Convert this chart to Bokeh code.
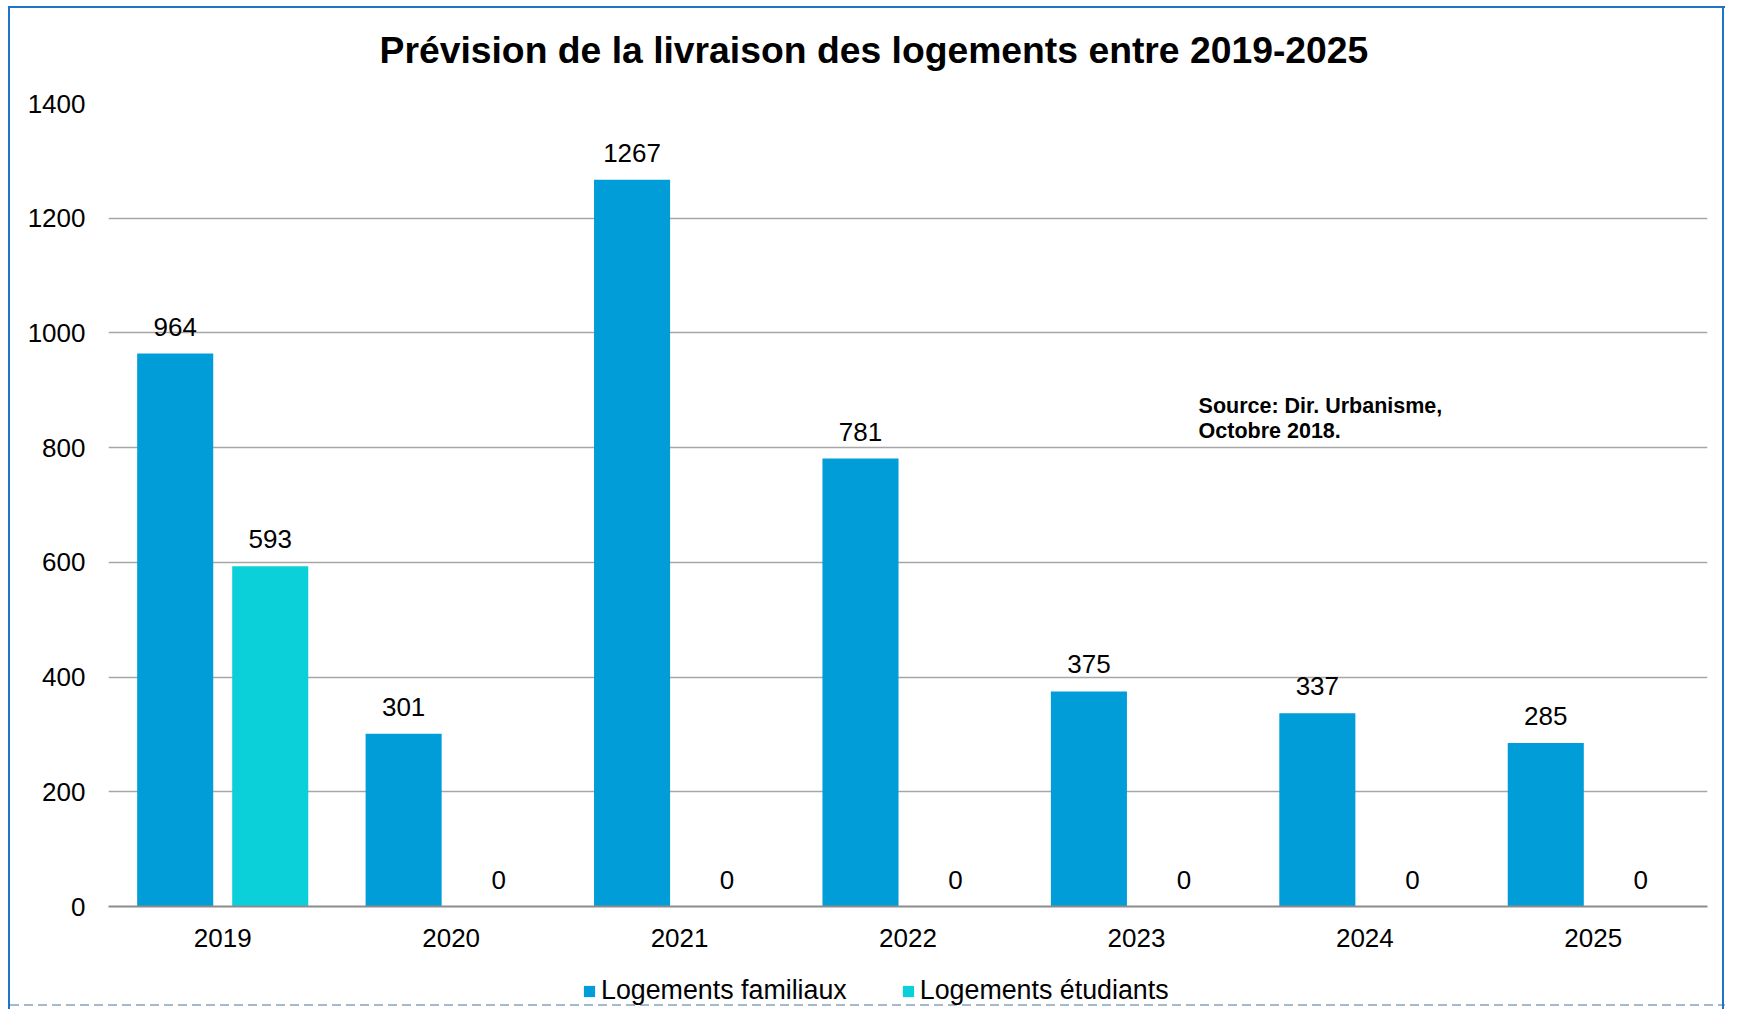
from bokeh.plotting import figure
from bokeh.layouts import column
from bokeh.models import (ColumnDataSource, FactorRange, Range1d, Legend, LegendItem,
                          Label, FixedTicker)
from bokeh.transform import dodge
from bokeh.embed import file_html
from bokeh.resources import INLINE
from bokeh.core.properties import value

years = ["2019", "2020", "2021", "2022", "2023", "2024", "2025"]
familiaux = [964, 301, 1267, 781, 375, 337, 285]
etudiants = [593, 0, 0, 0, 0, 0, 0]
y_ticks = [0, 200, 400, 600, 800, 1000, 1200, 1400]
series_names = ["Logements familiaux", "Logements étudiants"]
title_text = "Prévision de la livraison des logements entre 2019-2025"
source_lines = ["Source: Dir. Urbanisme,", "Octobre 2018."]

FONT = "Liberation Sans"
C_FAM = "#009DD9"
C_ETU = "#0BD0D9"
C_BORDER = "#1F74C8"
C_DASH = "#A3B9CD"

W = 1725
H_MAIN = 960
H_LEG = 49

xr = FactorRange(factors=years, range_padding=0)

p = figure(width=W, height=H_MAIN, x_range=xr, y_range=Range1d(0, 1400),
           output_backend="svg", toolbar_location=None,
           min_border_left=108, min_border_right=18,
           min_border_top=103, min_border_bottom=54)
p.border_fill_alpha = 0
p.background_fill_color = "white"

src = ColumnDataSource(dict(
    year=years, fam=familiaux, etu=etudiants,
    fam_lbl=[str(v) for v in familiaux],
    etu_lbl=[str(v) for v in etudiants],
))

r1 = p.vbar(x=dodge("year", -0.208, range=xr), top="fam", width=0.333,
            source=src, fill_color=C_FAM, line_color=None)
r2 = p.vbar(x=dodge("year", 0.208, range=xr), top="etu", width=0.333,
            source=src, fill_color=C_ETU, line_color=None)

p.text(x=dodge("year", -0.208, range=xr), y="fam", text="fam_lbl", source=src,
       text_align="center", text_baseline="alphabetic", y_offset=-27,
       text_font=value(FONT), text_font_size="26px", text_color="#000000")
p.text(x=dodge("year", 0.208, range=xr), y="etu", text="etu_lbl", source=src,
       text_align="center", text_baseline="alphabetic", y_offset=-27,
       text_font=value(FONT), text_font_size="26px", text_color="#000000")

# axes
p.xaxis.axis_line_color = "#8c8c8c"
p.xaxis.axis_line_width = 2
p.xaxis.major_tick_line_color = None
p.xaxis.major_tick_out = 0
p.xaxis.major_tick_in = 0
p.xaxis.minor_tick_line_color = None
p.xaxis.major_label_text_font = FONT
p.xaxis.major_label_text_font_size = "26px"
p.xaxis.major_label_text_color = "#000000"
p.xaxis.major_label_standoff = 22

p.yaxis.ticker = FixedTicker(ticks=y_ticks)
p.yaxis.axis_line_color = None
p.yaxis.major_tick_line_color = None
p.yaxis.major_tick_out = 0
p.yaxis.major_tick_in = 0
p.yaxis.minor_tick_line_color = None
p.yaxis.major_label_text_font = FONT
p.yaxis.major_label_text_font_size = "26px"
p.yaxis.major_label_text_color = "#000000"
p.yaxis.major_label_standoff = 23

p.xgrid.grid_line_color = None
p.ygrid.ticker = FixedTicker(ticks=y_ticks)
p.ygrid.grid_line_color = "#a6a6a6"
p.ygrid.grid_line_width = 1.5
p.outline_line_color = None

# title
p.title.text = title_text
p.title.align = "left"
p.title.offset = 271
p.title.vertical_align = "bottom"
p.title.standoff = 0
p.title.padding = {"left": 0, "right": 0, "top": 0, "bottom": 33}
p.title.text_font = FONT
p.title.text_font_size = "37.3px"
p.title.text_font_style = "bold"
p.title.text_color = "#000000"

# source note
p.add_layout(Label(x=4.772, y=852, text=source_lines[0], text_font=FONT,
                   text_font_size="21.5px", text_font_style="bold", text_color="#000000"))
p.add_layout(Label(x=4.772, y=807.5, text=source_lines[1], text_font=FONT,
                   text_font_size="21.5px", text_font_style="bold", text_color="#000000"))

# legend strip: its own small figure, so the legend is not clipped by the main frame.
# Its key renderers share the data but are hidden; only their legend swatches show.
lf = figure(width=W, height=H_LEG, output_backend="svg", toolbar_location=None,
            x_axis_type=None, y_axis_type=None,
            x_range=xr, y_range=Range1d(-2, -1),
            min_border=0)
lf.border_fill_alpha = 0
lf.background_fill_alpha = 0
lf.outline_line_color = None
lf.xgrid.visible = False
lf.ygrid.visible = False
k1 = lf.vbar(x=dodge("year", -0.208, range=xr), top="fam", width=0.333,
             source=src, fill_color=C_FAM, line_color=None)
k2 = lf.vbar(x=dodge("year", 0.208, range=xr), top="etu", width=0.333,
             source=src, fill_color=C_ETU, line_color=None)
k1.visible = False
k2.visible = False

legend = Legend(items=[LegendItem(label=series_names[0], renderers=[k1]),
                       LegendItem(label=series_names[1], renderers=[k2])],
                orientation="horizontal", location=(474, 3),
                glyph_width=14, glyph_height=14, label_standoff=5, spacing=54,
                padding=0, margin=0, border_line_color=None, background_fill_alpha=0,
                inactive_fill_alpha=0,
                label_text_font=FONT, label_text_font_size="26.8px", label_text_color="#000000")
lf.add_layout(legend, "center")

page = column(p, lf, spacing=0)
page.styles = {
    "background-color": "white",
    "background-image": (
        f"linear-gradient({C_BORDER},{C_BORDER}), "
        f"linear-gradient({C_BORDER},{C_BORDER}), "
        f"linear-gradient({C_BORDER},{C_BORDER}), "
        f"repeating-linear-gradient(to right, {C_DASH} 0px, {C_DASH} 9px, transparent 9px, transparent 14px)"
    ),
    "background-size": "2px 100%, 100% 2px, 2px 100%, 100% 2px",
    "background-position": "8px 6px, 8px 6px, 1722px 6px, 10px 1004px",
    "background-repeat": "no-repeat",
}

open("out.html", "w").write(file_html(page, INLINE))
